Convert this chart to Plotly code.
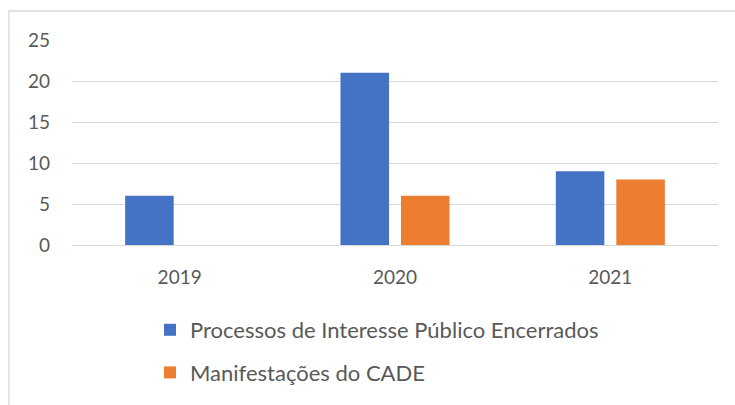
import plotly.graph_objects as go

categories = ["2019", "2020", "2021"]
series_names = ["Processos de Interesse Público Encerrados", "Manifestações do CADE"]
processos = [6, 21, 9]
manifestacoes = [0, 6, 8]
colors = ["#4472C4", "#ED7D31"]
y_ticks = [0, 5, 10, 15, 20, 25]

FONT = "Lato"
TXT = "#595959"

fig = go.Figure()
for i, (name, vals) in enumerate(zip(series_names, [processos, manifestacoes])):
    fig.add_trace(go.Bar(
        x=categories, y=vals, name=name,
        marker=dict(color=colors[i], line=dict(width=0)),
        legendgroup=f"g{i}",
    ))

PL, PR, PT, PB = 72, 17, 40, 160
PW = 735 - PL - PR
PH = 405 - PT - PB

fig.update_layout(
    width=735, height=405,
    margin=dict(l=PL, r=PR, t=PT, b=PB, autoexpand=False),
    paper_bgcolor="white", plot_bgcolor="white",
    barmode="group", bargap=0.438, bargroupgap=0.198,
    font=dict(family=FONT, size=19, color=TXT),
    showlegend=True,
    legend=dict(
        orientation="v", xref="container", yref="container",
        x=150/735, y=1 - 309/405, xanchor="left", yanchor="top",
        font=dict(family=FONT, size=22, color=TXT),
        tracegroupgap=11, traceorder="grouped",
        itemwidth=30, bgcolor="rgba(0,0,0,0)",
    ),
    xaxis=dict(
        showgrid=False, showline=False, ticks="",
        tickfont=dict(family=FONT, size=19, color=TXT),
        ticklabelstandoff=19, tickangle=0,
    ),
    yaxis=dict(
        range=[0, 25], tickvals=y_ticks,
        showgrid=True, gridcolor="#D9D9D9", gridwidth=1.3,
        zeroline=True, zerolinecolor="#D9D9D9", zerolinewidth=1.3,
        showline=False, ticks="",
        tickfont=dict(family=FONT, size=19, color=TXT),
        ticklabelstandoff=21,
    ),
    shapes=[dict(
        type="rect", xref="paper", yref="paper",
        x0=(9 - PL) / PW, x1=(760 - PL) / PW,
        y0=(245 - 430) / PH, y1=(245 - 11) / PH,
        line=dict(color="#D9D9D9", width=1.3), fillcolor="rgba(0,0,0,0)",
        layer="below",
    )],
)

fig.write_html("out.html")
